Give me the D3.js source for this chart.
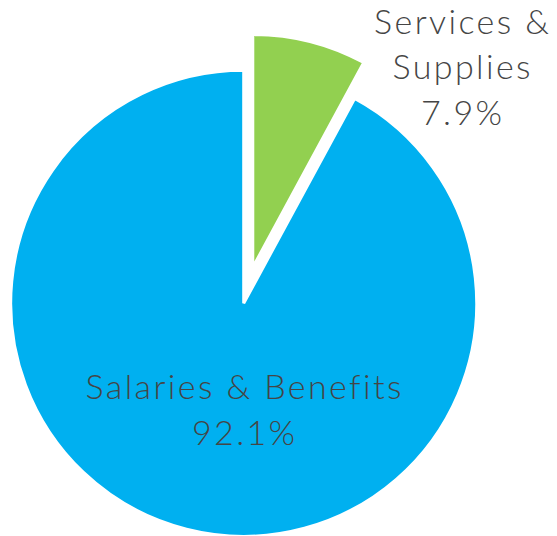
<!DOCTYPE html>
<html>
<head>
<meta charset="utf-8">
<script src="https://cdn.jsdelivr.net/npm/d3@7"></script>
<style>
    html, body { margin: 0; padding: 0; background: #ffffff; }
    svg { display: block; }
</style>
</head>
<body>
<script>
// Chart data
var categories = ["Services & Supplies", "Salaries & Benefits"];
var shares = [7.9, 92.1];
var labelLines = [["Services &", "Supplies"], ["Salaries & Benefits"]];
var sliceColors = ["#92D050", "#00B0F0"];

var chart = {
    width: 557,
    height: 536,
    cx: 243.7,
    cy: 303.3,
    radius: 233,
    explode: [37, 0],
    stroke: 3,
    fontSize: 34,
    letterSpacing: 2.4,
    lineHeight: 45.5,
    // label anchor (first baseline) relative to the pie centre
    labelAt: [[219, -269.6], [1, 96]]
};

var svg = d3.select("body").append("svg")
    .attr("width", chart.width)
    .attr("height", chart.height);

var g = svg.append("g")
    .attr("transform", "translate(" + chart.cx + "," + chart.cy + ")");

var pie = d3.pie().sort(null).value(function(d) { return d; });
var arcs = pie(shares);

var arc = d3.arc().innerRadius(0).outerRadius(chart.radius);

g.selectAll("path.slice")
    .data(arcs)
    .enter()
    .append("path")
    .attr("class", "slice")
    .attr("d", arc)
    .attr("fill", function(d, i) { return sliceColors[i]; })
    .attr("stroke", "#ffffff")
    .attr("stroke-width", chart.stroke)
    .attr("stroke-linejoin", "miter")
    .attr("transform", function(d, i) {
        var mid = (d.startAngle + d.endAngle) / 2;
        var dx = Math.sin(mid) * chart.explode[i];
        var dy = -Math.cos(mid) * chart.explode[i];
        return "translate(" + dx + "," + dy + ")";
    });

var labels = g.selectAll("text.label")
    .data(arcs)
    .enter()
    .append("text")
    .attr("class", "label")
    .attr("text-anchor", "middle")
    .attr("font-family", "Lato, 'Open Sans', sans-serif")
    .attr("font-weight", 300)
    .attr("font-size", chart.fontSize)
    .attr("letter-spacing", chart.letterSpacing)
    .attr("fill", "#454545")
    .attr("transform", function(d, i) {
        return "translate(" + chart.labelAt[i][0] + "," + chart.labelAt[i][1] + ")";
    });

labels.each(function(d, i) {
    var t = d3.select(this);
    var lines = labelLines[i].concat([d3.format(".1f")(shares[i]) + "%"]);
    lines.forEach(function(line, j) {
        t.append("tspan")
            .attr("x", 0)
            .attr("y", j * chart.lineHeight)
            .text(line);
    });
});
</script>
</body>
</html>
